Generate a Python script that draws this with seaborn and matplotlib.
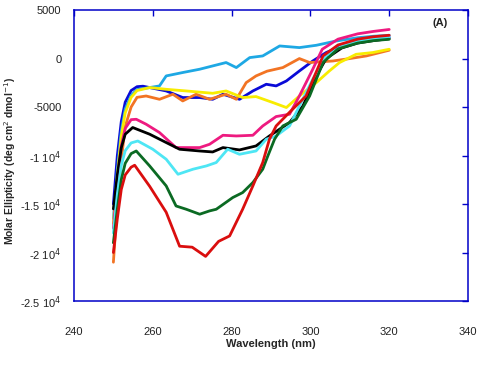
import numpy as np
import pandas as pd
import matplotlib
import matplotlib.pyplot as plt
import seaborn as sns

matplotlib.use("Agg")

# CD spectra, wavelength (nm) vs molar ellipticity
blue_x = [250, 251, 252, 253, 254.5, 256, 257.5, 263.4, 267.6, 271.9, 275.2, 277.8, 282, 285.4,
          288.8, 291.3, 293.9, 297.2, 300.6, 304, 308, 312, 316, 320]
blue_y = [-15000, -10000, -6500, -4500, -3300, -2900, -2850, -3340, -4020, -4020, -4200, -3680, -4200,
          -3340, -2650, -2820, -2310, -1280, -250, 620, 1300, 1700, 1950, 2200]

sky_x = [250, 251, 252, 253, 254.5, 256, 259.2, 261.7, 263.4, 267.6, 271.9, 275.2, 278.6, 281.2,
         284.6, 287.9, 292.2, 297.2, 301.5, 306.5, 312, 316, 320]
sky_y = [-16500, -11500, -7500, -5200, -3800, -3200, -2990, -2820, -1790, -1440, -1100, -760, -410,
         -930, 100, 270, 1300, 1130, 1370, 1810, 2150, 2300, 2400]

orange_x = [250, 251, 252, 253, 254.5, 256, 258.3, 261.7, 265.1, 267.6, 271, 274.4, 278.6, 281.2,
            283.7, 286.2, 289, 293, 297.2, 299.8, 305.7, 310, 314.2, 320]
orange_y = [-21000, -15000, -10500, -7000, -5000, -4000, -3860, -4200, -3680, -4370, -3680, -4200,
            -3680, -4200, -2480, -1790, -1300, -930, 0, -410, -250, 0, 270, 860]

yellow_x = [250, 251, 252, 253, 254.5, 256, 259.2, 263.4, 268.5, 275.2, 278.6, 282.8, 286.2, 290.5,
            293.9, 297.2, 301.5, 304.8, 307.4, 311.6, 315.8, 320]
yellow_y = [-17000, -12000, -8000, -5600, -4000, -3300, -2990, -3170, -3340, -3580, -3340, -4020,
            -3920, -4540, -5050, -3860, -2480, -1280, -410, 440, 620, 960]

pink_x = [250, 251, 252, 253, 254.5, 255.8, 258.3, 261.7, 265.9, 271.9, 274.4, 277.8, 281.2, 285.4,
          287.9, 291.3, 294.7, 297.2, 300.6, 303, 307, 312, 316, 320]
pink_y = [-17500, -12500, -9000, -7200, -6300, -6260, -6770, -7630, -9180, -9180, -8840, -7910,
          -7980, -7910, -6950, -5980, -5740, -3860, -1100, 960, 2000, 2550, 2800, 3000]

black_x = [250, 251, 252, 253, 254.9, 259.2, 263.4, 266.8, 271.9, 275.2, 277.8, 282, 286.2, 289.6,
           294.7, 298.1, 301.5, 304, 308, 312, 316, 320]
black_y = [-15500, -12000, -9200, -7800, -7110, -7800, -8660, -9350, -9530, -9630, -9180, -9420,
           -9010, -7980, -6600, -4890, -1790, 0, 1100, 1600, 1850, 2050]

cyan_x = [250, 251, 252, 253, 254.5, 256.2, 260, 263.4, 266.4, 270.2, 273.6, 276.1, 279, 282,
          286.2, 288.8, 291.3, 294.7, 297.2, 300.6, 304, 308, 312, 316, 320]
cyan_y = [-18000, -14000, -11000, -9500, -8700, -8500, -9350, -10380, -11930, -11410, -11070,
          -10720, -9350, -9870, -9530, -8320, -7980, -6950, -4890, -2130, 270, 1300, 1800, 2050, 2200]

green_x = [250, 251, 252, 253, 254.5, 255.8, 259.2, 263.4, 265.9, 268.5, 271.9, 274.4, 276.1, 280.3,
           282.8, 285.4, 287.9, 289.2, 290.9, 293, 296.4, 299.8, 303.2, 307, 312, 316, 320]
green_y = [-19000, -15500, -12500, -10800, -9800, -9530, -11070, -13130, -15200, -15540, -16050,
           -15710, -15540, -14330, -13820, -12780, -11410, -10040, -8320, -6950, -6260, -3860, -410,
           1000, 1600, 1850, 1990]

red_x = [250, 251, 252, 253, 254.5, 255.4, 259.2, 263.4, 266.8, 270, 273.4, 276.7, 279.5, 282.8,
         285.4, 287.9, 289.6, 291.3, 294.7, 298.9, 303.2, 307, 312, 316, 320]
red_y = [-20000, -16500, -13500, -12000, -11200, -11000, -13170, -15850, -19350, -19450, -20400,
         -18850, -18290, -15540, -13130, -10720, -8320, -6950, -5540, -3860, 270, 1400, 2000, 2250, 2400]

series = [
    ("blue", blue_x, blue_y, "#0A0AD7"),
    ("sky", sky_x, sky_y, "#1EA8E4"),
    ("orange", orange_x, orange_y, "#F27424"),
    ("yellow", yellow_x, yellow_y, "#F8EC00"),
    ("pink", pink_x, pink_y, "#EE1A80"),
    ("black", black_x, black_y, "#000000"),
    ("cyan", cyan_x, cyan_y, "#4EE6F4"),
    ("green", green_x, green_y, "#0B6A23"),
    ("red", red_x, red_y, "#DA0E0E"),
]

rows = []
for name, xs, ys, _ in series:
    for xv, yv in zip(xs, ys):
        rows.append({"wavelength": xv, "ellipticity": yv, "curve": name})
df = pd.DataFrame(rows)
palette = {name: c for name, _, _, c in series}

y_ticks = [5000, 0, -5000, -10000, -15000, -20000, -25000]
y_labels = ["5000", "0", "-5000", "-1 10$^{4}$", "-1.5 10$^{4}$", "-2 10$^{4}$", "-2.5 10$^{4}$"]
x_ticks = [240, 260, 280, 300, 320, 340]

sns.set_style("white")
plt.rcParams["font.family"] = ["Liberation Sans", "DejaVu Sans"]

fig = plt.figure(figsize=(4.82, 3.73), dpi=100)
ax = fig.add_axes([0.1535, 0.193, 0.8175, 0.78])

sns.lineplot(data=df, x="wavelength", y="ellipticity", hue="curve", palette=palette,
             linewidth=2.0, legend=False, sort=False, estimator=None, ax=ax)

ax.set_xlim(240, 340)
ax.set_ylim(-25000, 5000)
ax.set_xticks(x_ticks)
ax.set_yticks(y_ticks)
ax.set_yticklabels(y_labels)

for sp in ax.spines.values():
    sp.set_color("#0000C8")
    sp.set_linewidth(1.1)

ax.tick_params(axis="both", direction="in", length=4, width=1, color="#0000C8",
               top=True, right=True, labelsize=8, labelcolor="#222222")
ax.tick_params(axis="x", pad=19)
ax.tick_params(axis="y", pad=9)

ax.set_xlabel("Wavelength (nm)", fontsize=8, fontweight="bold", labelpad=1)
ax.set_ylabel("Molar Ellipticity (deg cm$^{2}$ dmol$^{-1}$)", fontsize=7.5, fontweight="bold")
ax.yaxis.set_label_coords(-0.142, 0.48)
ax.text(0.93, 0.955, "(A)", transform=ax.transAxes, fontsize=8, fontweight="bold",
        ha="center", va="center", color="#222222")

fig.savefig("out.png", dpi=100)
plt.close(fig)
